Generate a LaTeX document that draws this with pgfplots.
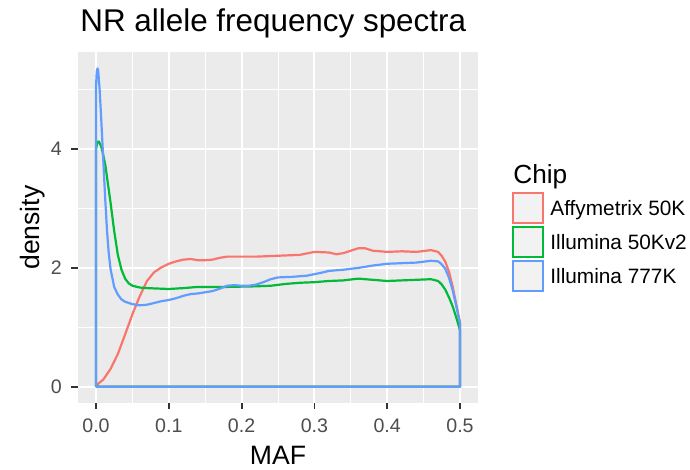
\documentclass[border=0pt]{standalone}
\usepackage{fontspec}
\setmainfont{Liberation Sans}
\usepackage{pgfplots}
\pgfplotsset{compat=1.18}

\definecolor{panelbg}{HTML}{EBEBEB}
\definecolor{keyfill}{HTML}{F2F2F2}
\definecolor{tickgray}{HTML}{333333}
\definecolor{labgray}{HTML}{4D4D4D}
\definecolor{affy}{HTML}{F8766D}
\definecolor{illa}{HTML}{00BA38}
\definecolor{illb}{HTML}{619CFF}

\begin{document}
\begin{tikzpicture}
  \begin{axis}[
    at={(0,0)}, anchor=south west,
    width=200.2pt, height=175.05pt, scale only axis,
    xmin=-0.025, xmax=0.525, ymin=-0.268, ymax=5.628,
    axis background/.style={fill=panelbg},
    axis line style={draw=none},
    xtick={0,0.1,0.2,0.3,0.4,0.5},
    xticklabels={0.0,0.1,0.2,0.3,0.4,0.5},
    ytick={0,2,4},
    yticklabels={0,2,4},
    minor xtick={0.05,0.15,0.25,0.35,0.45},
    minor ytick={1,3,5},
    grid=both,
    major grid style={white, line width=1pt},
    minor grid style={white, line width=0.5pt},
    tick align=outside,
    xtick pos=left, ytick pos=left,
    major tick length=3.3pt, minor tick length=0pt,
    major tick style={draw=tickgray, line width=0.9pt},
    ticklabel style={font=\fontsize{9.8}{11}\selectfont, text=labgray},
    /pgf/number format/assume math mode=true,
    xticklabel style={anchor=north, yshift=-1.5pt},
    yticklabel style={anchor=east, xshift=-1.2pt},
    every axis plot/.append style={line width=1.1pt, line join=round},
  ]
    % Affymetrix 50K
    \addplot[draw=affy] coordinates {
      (0,0) (0.003,0.05) (0.01,0.12) (0.02,0.30) (0.03,0.55) (0.04,0.88)
      (0.05,1.22) (0.06,1.52) (0.07,1.78) (0.08,1.93) (0.09,2.01) (0.10,2.07)
      (0.11,2.11) (0.12,2.14) (0.13,2.15) (0.14,2.13) (0.15,2.13) (0.16,2.14)
      (0.17,2.17) (0.18,2.19) (0.20,2.19) (0.22,2.19) (0.24,2.20) (0.26,2.21)
      (0.28,2.22) (0.30,2.27) (0.32,2.26) (0.33,2.23) (0.34,2.25) (0.36,2.33)
      (0.37,2.33) (0.38,2.29) (0.40,2.27) (0.42,2.28) (0.44,2.27) (0.46,2.30)
      (0.47,2.27) (0.475,2.20) (0.48,2.10) (0.485,1.93) (0.49,1.68)
      (0.495,1.38) (0.5,1.07) (0.5,0) (0,0)
    };
    % Illumina 50Kv2
    \addplot[draw=illa] coordinates {
      (0,0) (0,4.0) (0.002,4.12) (0.004,4.13) (0.007,4.05) (0.010,3.90)
      (0.013,3.72) (0.016,3.45) (0.02,3.10) (0.025,2.62) (0.03,2.22)
      (0.035,1.97) (0.04,1.82) (0.045,1.74) (0.05,1.70) (0.06,1.67)
      (0.07,1.66) (0.08,1.655) (0.09,1.65) (0.10,1.645) (0.12,1.66)
      (0.14,1.68) (0.16,1.68) (0.18,1.68) (0.20,1.685) (0.22,1.69)
      (0.24,1.70) (0.26,1.73) (0.28,1.75) (0.30,1.76) (0.32,1.78)
      (0.34,1.79) (0.36,1.82) (0.38,1.80) (0.40,1.78) (0.42,1.79)
      (0.44,1.80) (0.46,1.81) (0.47,1.78) (0.475,1.72) (0.48,1.63)
      (0.485,1.50) (0.49,1.35) (0.495,1.16) (0.5,0.95) (0.5,0) (0,0)
    };
    % Illumina 777K
    \addplot[draw=illb] coordinates {
      (0,0) (0,5.05) (0.001,5.30) (0.002,5.36) (0.003,5.33) (0.005,5.00)
      (0.007,4.55) (0.010,3.82) (0.0125,3.20) (0.015,2.65) (0.0175,2.25)
      (0.02,1.98) (0.025,1.68) (0.03,1.55) (0.035,1.47) (0.04,1.43)
      (0.05,1.39) (0.06,1.37) (0.07,1.38) (0.08,1.41) (0.09,1.44)
      (0.10,1.46) (0.11,1.49) (0.12,1.53) (0.13,1.56) (0.14,1.57)
      (0.15,1.59) (0.16,1.61) (0.17,1.65) (0.18,1.70) (0.19,1.71)
      (0.20,1.70) (0.21,1.70) (0.22,1.72) (0.23,1.76) (0.24,1.81)
      (0.25,1.84) (0.27,1.85) (0.29,1.87) (0.31,1.92) (0.32,1.95)
      (0.34,1.97) (0.36,2.00) (0.38,2.04) (0.40,2.07) (0.42,2.08)
      (0.44,2.09) (0.46,2.12) (0.47,2.11) (0.475,2.06) (0.48,1.98)
      (0.485,1.83) (0.49,1.62) (0.495,1.35) (0.5,1.07) (0.5,0) (0,0)
    };
  \end{axis}

  % title and axis titles
  \node[anchor=base west, inner sep=0pt] at (1.1pt,185.4pt)
    {\fontsize{15.7}{18}\selectfont NR allele frequency spectra};
  \node[anchor=base, inner sep=0pt] at (100.1pt,-31.2pt)
    {\fontsize{13.3}{15}\selectfont MAF};
  \node[rotate=90, anchor=center, inner sep=0pt] at (-22.4pt,87.5pt)
    {\fontsize{13.3}{15}\selectfont density};

  % legend
  \node[anchor=base west, inner sep=0pt] at (217.6pt,109.6pt)
    {\fontsize{13.1}{15}\selectfont Chip};
  \foreach \col/\lab [count=\i from 0] in
      {affy/Affymetrix 50K, illa/Illumina 50Kv2, illb/Illumina 777K} {
    \draw[draw=\col, fill=keyfill, line width=1pt]
      (217.45pt,{104.95pt-17pt*\i}) rectangle (232.75pt,{89.65pt-17pt*\i});
    \node[anchor=base west, inner sep=0pt] at (236.1pt,{93.3pt-17pt*\i})
      {\fontsize{10.4}{12}\selectfont \lab};
  }

  \pgfresetboundingbox
  \path[use as bounding box] (-38.9pt,-33.7pt) rectangle (306.1pt,201.3pt);
\end{tikzpicture}
\end{document}
